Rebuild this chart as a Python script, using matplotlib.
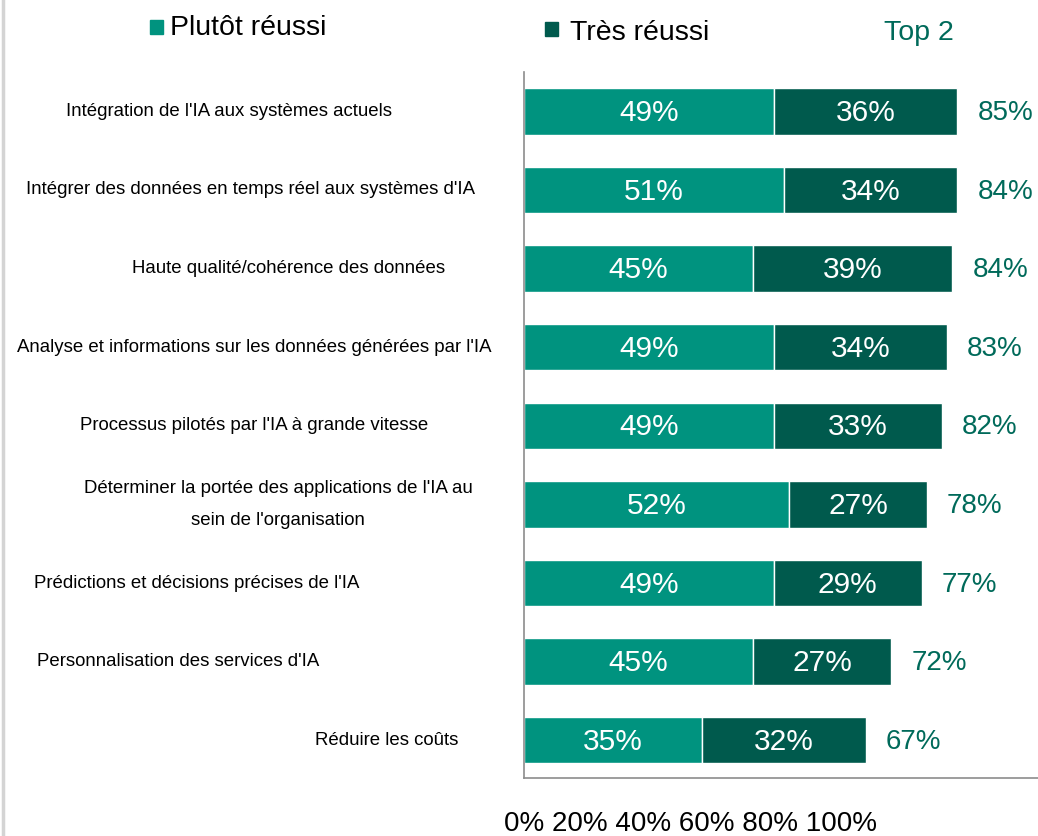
import numpy as np
import matplotlib.pyplot as plt
from matplotlib.patches import Rectangle
from matplotlib.lines import Line2D
import matplotlib.transforms as mtransforms

plt.rcParams['font.family'] = ['Liberation Sans', 'DejaVu Sans']

categories = [
    "Intégration de l'IA aux systèmes actuels",
    "Intégrer des données en temps réel aux systèmes d'IA",
    "Haute qualité/cohérence des données",
    "Analyse et informations sur les données générées par l'IA",
    "Processus pilotés par l'IA à grande vitesse",
    "Déterminer la portée des applications de l'IA au\nsein de l'organisation",
    "Prédictions et décisions précises de l'IA",
    "Personnalisation des services d'IA",
    "Réduire les coûts",
]
plutot = [49, 51, 45, 49, 49, 52, 49, 45, 35]
tres = [36, 34, 39, 34, 33, 27, 29, 27, 32]
top2 = [85, 84, 84, 83, 82, 78, 77, 72, 67]
series_names = ["Plutôt réussi", "Très réussi"]
tick_text = "0% 20% 40% 60% 80% 100%"

# label centres in figure pixels (labels are not aligned in the original)
label_cx = [229, 250, 289, 254, 254, 278, 197, 178, 387]

c_light = '#00937f'
c_dark = '#005a4d'
c_top = '#006a5a'

W, H = 1038, 836
fig = plt.figure(figsize=(W / 100, H / 100), dpi=100)
ax = fig.add_axes([524 / W, 1 - 778 / H, 1 - 524 / W, (778 - 72) / H])

y = np.arange(len(categories))
ax.barh(y, plutot, height=0.59, color=c_light, edgecolor='white', linewidth=1)
ax.barh(y, tres, left=plutot, height=0.59, color=c_dark, edgecolor='white', linewidth=1)

for i in range(len(categories)):
    ax.text(plutot[i] / 2, i + 0.02, f"{plutot[i]}%", ha='center', va='center',
            color='white', fontsize=21.5)
    ax.text(plutot[i] + tres[i] / 2, i + 0.02, f"{tres[i]}%", ha='center', va='center',
            color='white', fontsize=21.5)
    off = mtransforms.offset_copy(ax.transData, fig=fig, x=20, y=0, units='dots')
    ax.text(plutot[i] + tres[i], i + 0.02, f"{top2[i]}%", ha='left', va='center',
            color=c_top, fontsize=20, transform=off)

trans = mtransforms.blended_transform_factory(fig.transFigure, ax.transData)
for i, lab in enumerate(categories):
    ax.text(label_cx[i] / W, i, lab, ha='center', va='center', fontsize=13.4,
            transform=trans, linespacing=2.2, clip_on=False)

ax.set_xlim(0, 100.8)
ax.set_ylim(len(categories) - 0.52, -0.5)
ax.set_xticks([])
ax.set_yticks([])
for s in ['top', 'right']:
    ax.spines[s].set_visible(False)
for s in ['left', 'bottom']:
    ax.spines[s].set_color('#8c8c8c')
    ax.spines[s].set_linewidth(1.2)

# axis text line under the chart
fig.text(690 / W, 1 - 824 / H, tick_text, ha='center', va='center', fontsize=20)

# legend
fig.patches.append(Rectangle((150 / W, 1 - 34 / H), 13 / W, 14 / H,
                             transform=fig.transFigure, color=c_light))
fig.text(170 / W, 1 - 28 / H, series_names[0], ha='left', va='center', fontsize=20.5)
fig.patches.append(Rectangle((545 / W, 1 - 36 / H), 13 / W, 14 / H,
                             transform=fig.transFigure, color=c_dark))
fig.text(570 / W, 1 - 33 / H, series_names[1], ha='left', va='center', fontsize=20.5)
fig.text(884 / W, 1 - 33 / H, "Top 2", ha='left', va='center', fontsize=20.5, color=c_top)

# grey frame line on the left edge
fig.add_artist(Line2D([3 / W, 3 / W], [0, 1], transform=fig.transFigure,
                      color='#d4d4d4', linewidth=2.5))

fig.savefig('out.png', dpi=100)
